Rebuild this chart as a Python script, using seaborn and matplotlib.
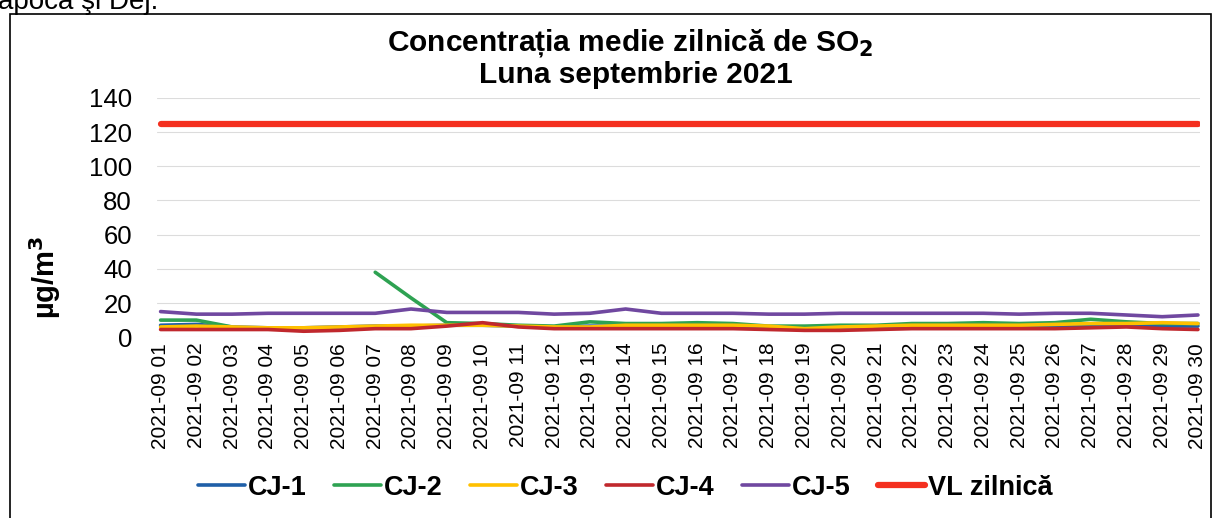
import matplotlib
matplotlib.use("Agg")
import matplotlib.pyplot as plt
import seaborn as sns
import numpy as np
import pandas as pd
from matplotlib.patches import Rectangle

# Data (September 2021, daily SO2, ug/m3)
days = [f"2021-09 {d:02d}" for d in range(1, 31)]
cj1 = [7, 7.5, 6, 5.5, 5.5, 6, 6.5, 6.5, 7, 7, 6.5, 6, 6.5, 6.5, 6.5,
       6.5, 6.5, 6, 5.5, 6, 6, 6, 6.5, 6.5, 6.5, 6.5, 7, 7, 6.5, 6.5]
cj2 = [10, 10, 6, np.nan, np.nan, np.nan, 38, 23, 8.5, 8, 7, 6.5, 9, 8, 8,
       8.5, 8, 6.5, 6.5, 7, 7, 8, 8, 8.5, 8, 8.5, 10.5, 9, 8, 8]
cj3 = [6, 6.5, 6, 5.5, 5.5, 6, 6.5, 7, 7, 7, 6.5, 6, 6, 7, 7,
       7, 7, 6.5, 5, 6, 6.5, 7, 7, 7, 7, 7.5, 8, 8, 8.5, 8]
cj4 = [4.5, 4.5, 4.5, 4.5, 3.5, 4, 5, 5, 6.5, 8.5, 6, 5, 5, 5, 5,
       5, 5, 4.5, 4, 4, 4.5, 5, 5, 5, 5, 5, 5.5, 6, 5, 4.5]
cj5 = [15, 13.5, 13.5, 14, 14, 14, 14, 16.5, 14.5, 14.5, 14.5, 13.5, 14, 16.5, 14,
       14, 14, 13.5, 13.5, 14, 14, 14, 14, 14, 13.5, 14, 14, 13, 12, 13]
vl = [125] * 30

series = {"CJ-1": cj1, "CJ-2": cj2, "CJ-3": cj3, "CJ-4": cj4, "CJ-5": cj5, "VL zilnică": vl}
colors = {"CJ-1": "#1f5fa8", "CJ-2": "#2ea252", "CJ-3": "#ffc000",
          "CJ-4": "#c0282d", "CJ-5": "#7048a0", "VL zilnică": "#f4301f"}
widths = {"CJ-1": 2.6, "CJ-2": 2.6, "CJ-3": 2.6, "CJ-4": 2.6, "CJ-5": 2.6, "VL zilnică": 4.5}

sns.set_theme(style="white")
plt.rcParams["font.family"] = ["Liberation Sans", "DejaVu Sans"]
plt.rcParams["text.color"] = "black"
plt.rcParams["xtick.color"] = "black"
plt.rcParams["ytick.color"] = "black"

fig = plt.figure(figsize=(12.21, 5.18), dpi=100)
ax = fig.add_axes([0.1286, 0.349, 0.854, 0.462])

idx = np.arange(len(days))
for name, vals in series.items():
    y = np.array(vals, dtype=float)
    # draw each run of valid values separately so gaps stay open
    valid = ~np.isnan(y)
    starts = np.where(valid & ~np.r_[False, valid[:-1]])[0]
    ends = np.where(valid & ~np.r_[valid[1:], False])[0]
    for k, (s, e) in enumerate(zip(starts, ends)):
        seg = pd.DataFrame({"x": idx[s:e + 1], "y": y[s:e + 1]})
        sns.lineplot(data=seg, x="x", y="y", ax=ax, color=colors[name],
                     lw=widths[name], label=name if k == 0 else None, legend=False)

ax.set_xlim(-0.1, 29.05)
ax.set_ylim(0, 140)
ax.set_yticks(range(0, 141, 20))
ax.set_xticks(idx)
ax.set_xticklabels(days, rotation=90, fontsize=15)
ax.tick_params(axis="y", labelsize=18.5, pad=18, length=0)
ax.tick_params(axis="x", pad=4, length=0)
ax.grid(axis="y", color="#dcdcdc", lw=0.8)
ax.grid(axis="x", visible=False)
for sp in ax.spines.values():
    sp.set_visible(False)
ax.set_xlabel("")
ax.set_ylabel("")

fig.text(0.037, 0.465, "µg/m$^\\mathbf{3}$", rotation=90, fontsize=21,
         fontweight="bold", ha="center", va="center")
fig.text(0.516, 0.917, "Concentrația medie zilnică de SO$_\\mathbf{2}$",
         fontsize=21.5, fontweight="bold", ha="center", va="center")
fig.text(0.521, 0.855, "Luna septembrie 2021", fontsize=21.5,
         fontweight="bold", ha="center", va="center")

handles, labels = ax.get_legend_handles_labels()
fig.legend(handles, labels, loc="center", bbox_to_anchor=(0.512, 0.058), ncol=6,
           frameon=False, prop={"weight": "bold", "size": 19.5},
           handlelength=1.75, handletextpad=0.1, columnspacing=1.0)

# outer chart frame and clipped document text above it
fig.add_artist(Rectangle((10 / 1221, -0.1), 1201 / 1221, 1.1 - 14 / 518,
                         transform=fig.transFigure, fill=False, ec="black", lw=1.2))
fig.text(-0.002, 1 - 9 / 518, "apoca şi Dej.", fontsize=20, ha="left", va="baseline")

fig.savefig("out.png", dpi=100)
plt.close(fig)
